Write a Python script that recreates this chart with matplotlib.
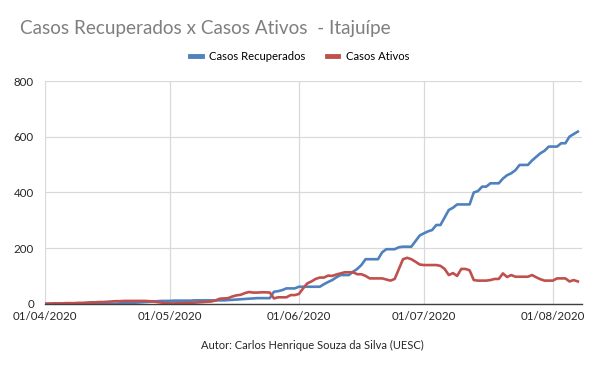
import matplotlib
matplotlib.use("Agg")
import matplotlib.pyplot as plt
import numpy as np
import pandas as pd

start_date = "2020-04-01"
tick_labels = ["01/04/2020", "01/05/2020", "01/06/2020", "01/07/2020", "01/08/2020"]
tick_dates = ["2020-04-01", "2020-05-01", "2020-06-01", "2020-07-01", "2020-08-01"]

recuperados = [
    0, 0, 0, 0, 0, 0, 0, 0, 0, 0,
    0, 0, 0, 0, 0, 0, 0, 0, 1, 2,
    3, 3, 4, 5, 6, 7, 8, 9, 10, 10,
    10, 11, 11, 11, 11, 11, 12, 12, 12, 12,
    12, 12, 12, 12, 13, 14, 15, 16, 17, 18,
    19, 20, 20, 20, 20, 43, 45, 49, 55, 55,
    55, 61, 61, 61, 61, 61, 61, 70, 78, 85,
    95, 103, 103, 103, 115, 125, 139, 160, 160, 160,
    160, 185, 196, 196, 196, 203, 205, 205, 205, 225,
    245, 253, 260, 265, 283, 283, 310, 337, 345, 357,
    357, 357, 357, 400, 405, 421, 421, 433, 433, 433,
    450, 462, 469, 480, 499, 499, 499, 515, 528, 541,
    550, 565, 565, 565, 577, 577, 601, 610, 619,
]

ativos = [
    0, 0, 1, 1, 1, 2, 2, 2, 3, 3,
    4, 5, 5, 6, 6, 7, 8, 9, 9, 10,
    10, 10, 10, 10, 10, 9, 8, 6, 4, 2,
    1, 1, 2, 2, 3, 3, 4, 5, 6, 7,
    8, 12, 18, 19, 20, 26, 30, 32, 38, 42,
    40, 40, 41, 41, 40, 19, 23, 23, 23, 31,
    31, 35, 55, 73, 80, 89, 94, 94, 101, 100,
    105, 109, 113, 113, 113, 106, 106, 100, 91, 91,
    91, 91, 87, 83, 89, 125, 160, 165, 160, 151,
    141, 139, 139, 139, 139, 136, 125, 103, 110, 100,
    125, 125, 120, 85, 83, 83, 83, 85, 89, 89,
    109, 96, 103, 97, 97, 97, 97, 103, 95, 88,
    83, 83, 83, 91, 91, 91, 80, 85, 80,
]

assert len(recuperados) == len(ativos)
dates = pd.date_range(start_date, periods=len(recuperados), freq="D")

plt.rcParams['font.family'] = ['Lato', 'DejaVu Sans']

fig = plt.figure(figsize=(6.0, 3.71), dpi=100)
ax = fig.add_axes([0.075, 0.1814, 0.895, 0.5996])

blue = "#4f81bd"
red = "#c0504d"
ax.plot(dates, recuperados, color=blue, lw=1.9, label="Casos Recuperados", solid_joinstyle="round")
ax.plot(dates, ativos, color=red, lw=1.9, label="Casos Ativos", solid_joinstyle="round")

ax.set_ylim(0, 800)
ax.set_yticks([0, 200, 400, 600, 800])
ax.set_xlim(pd.Timestamp(start_date), pd.Timestamp(start_date) + pd.Timedelta(days=129))
ax.set_xticks([pd.Timestamp(d) for d in tick_dates])
ax.set_xticklabels(tick_labels)

ax.grid(True, color="#d9d9d9", lw=0.9)
ax.set_axisbelow(True)
for s in ["left", "right", "top"]:
    ax.spines[s].set_visible(False)
ax.spines["bottom"].set_color("#404040")
ax.spines["bottom"].set_linewidth(1.0)
ax.tick_params(axis="both", length=0, labelsize=8.3, colors="#262626")
ax.tick_params(axis="y", pad=8)
ax.tick_params(axis="x", pad=5)

fig.text(0.033, 0.922, "Casos Recuperados x Casos Ativos  - Itajuípe", fontsize=13.6,
         color="#7f7f7f", ha="left", va="center")

leg = fig.legend(loc="center", bbox_to_anchor=(0.5, 0.847), ncol=2, frameon=False,
                 fontsize=8.1, handlelength=1.0, handletextpad=0.7, columnspacing=1.9)
for h in leg.legend_handles:
    h.set_linewidth(3.5)

fig.text(0.52, 0.07, "Autor: Carlos Henrique Souza da Silva (UESC)", fontsize=8,
         color="#262626", ha="center", va="center")

fig.savefig("out.png", dpi=100)
